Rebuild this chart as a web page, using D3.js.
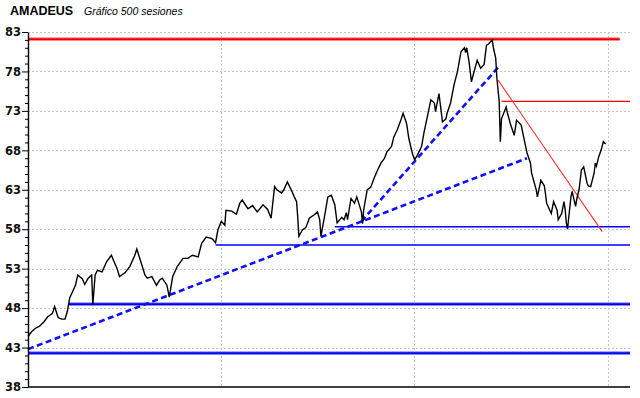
<!DOCTYPE html>
<html>
<head>
<meta charset="utf-8">
<script src="https://cdn.jsdelivr.net/npm/d3@7"></script>
<style>
  body { margin: 0; background: #fff; }
  svg { display: block; }
</style>
</head>
<body>
<div id="wrapper"></div>
<script>
// data (session number, close)
const sessions = [0, 3, 7, 10, 14, 17, 21, 23, 26, 29, 32, 34, 36, 41, 43, 47, 49, 52, 55, 56,
  58, 60, 64, 68, 72, 74, 77, 79, 84, 88, 92, 94, 97, 101, 103, 107, 111, 114, 116, 120,
  122, 125, 129, 134, 138, 142, 147, 150, 154, 159, 162, 164, 167, 170, 171, 176, 180, 183, 185, 190,
  194, 198, 203, 207, 210, 213, 215, 219, 221, 224, 228, 230, 232, 233, 234, 237, 240, 243, 247, 250,
  252, 253, 256, 259, 262, 265, 267, 271, 273, 275, 276, 279, 282, 284, 288, 289, 290, 293, 296, 299,
  302, 305, 308, 310, 314, 316, 319, 322, 324, 327, 329, 332, 334, 336, 340, 342, 345, 348, 351, 352,
  355, 358, 361, 362, 365, 368, 371, 374, 377, 378, 379, 381, 383, 385, 388, 391, 394, 396, 398, 401,
  402, 404, 405, 407, 408, 409, 413, 414, 417, 420, 422, 426, 428, 431, 434, 435, 439, 440, 443, 446,
  447, 448, 452, 454, 457, 458, 461, 463, 464, 465, 466, 469, 470, 473, 474, 476, 478, 480, 483, 484,
  486, 489, 490, 491, 493, 495, 497, 499]
const closes = [44.4, 45.0, 45.5, 45.7, 46.3, 46.9, 47.3, 48.2, 46.8, 46.6, 46.6, 47.6, 49.3, 50.9, 52.2, 51.7, 51.0, 51.8, 52.2, 48.4,
  52.2, 52.8, 52.6, 53.9, 54.7, 54.0, 53.0, 52.0, 52.5, 53.3, 54.6, 55.5, 54.1, 52.2, 51.8, 52.0, 50.9, 51.6, 51.8, 50.9,
  49.4, 52.0, 53.3, 54.3, 54.3, 54.7, 54.5, 56.2, 57.0, 56.8, 56.3, 57.9, 59.0, 58.5, 60.4, 60.3, 59.9, 61.3, 61.7, 60.6,
  61.0, 60.2, 61.1, 60.5, 59.4, 63.4, 63.0, 62.6, 63.0, 64.0, 62.8, 62.1, 61.5, 59.5, 57.1, 57.9, 58.2, 59.4, 59.8, 60.2,
  59.2, 57.1, 59.5, 62.1, 62.3, 61.1, 58.8, 59.5, 59.2, 60.1, 59.2, 61.9, 61.3, 62.1, 60.2, 58.7, 60.5, 63.0, 63.3, 64.5,
  65.5, 66.4, 67.0, 67.8, 68.5, 69.7, 70.6, 71.8, 72.7, 71.4, 69.5, 67.6, 66.8, 67.3, 68.5, 70.2, 72.3, 74.4, 74.0, 72.9,
  75.2, 71.6, 72.0, 72.7, 74.0, 76.3, 78.0, 80.5, 81.0, 80.4, 81.0, 79.2, 76.7, 77.8, 79.4, 78.4, 78.9, 81.3, 81.5, 82.0,
  81.0, 79.7, 77.2, 74.2, 69.1, 72.0, 73.5, 72.8, 71.2, 69.9, 71.8, 71.2, 69.8, 67.7, 66.4, 65.1, 63.0, 62.1, 64.2, 63.5,
  62.5, 61.3, 60.0, 61.5, 60.4, 59.2, 60.0, 61.5, 60.5, 58.8, 58.0, 62.1, 62.8, 60.9, 61.8, 63.0, 65.5, 65.9, 63.8, 63.5,
  63.4, 65.1, 66.4, 66.0, 67.2, 68.0, 69.1, 68.8]

// y ticks and vertical grid sessions
const yTicks = [38, 43, 48, 53, 58, 63, 68, 73, 78, 83]
const gridSessions = [167, 333, 501]

// horizontal levels
const levelValues = [82.1, 74.2, 58.3, 56.0, 48.5, 42.3]
const levelStart = [0, 409, 265, 162, 35, 0]
const levelEnd = [511, 520, 520, 520, 520, 520]
const levelKind = ["redMajor", "redThin", "blueThin", "blueThin", "blueMajor", "blueMajor"]

// trend lines [session, value]
const trendFrom = [[0, 42.8], [288, 59.0], [406, 76.9]]
const trendTo = [[431, 67.0], [406, 78.5], [496, 57.7]]
const trendKind = ["blueDash", "blueDash", "redThin2"]

const styles = {
  redMajor: [{ stroke: "#ff8a8a", width: 3.6 }, { stroke: "#ee0000", width: 1.6 }],
  blueMajor: [{ stroke: "#8a8aff", width: 3.6 }, { stroke: "#0000ee", width: 1.6 }],
  redThin: [{ stroke: "#ff0000", width: 1.3 }],
  blueThin: [{ stroke: "#0000ff", width: 1.5 }],
  blueDash: [{ stroke: "#1010ff", width: 2.6, dash: "6,3.5" }],
  redThin2: [{ stroke: "#ff3030", width: 1.1 }],
}

// create dimensions
let dimensions = {
  width: 640,
  height: 398,
  left: 28,
  right: 630,
  top: 32,
  bottom: 387,
}

const wrapper = d3.select("#wrapper")
  .append("svg")
    .attr("width", dimensions.width)
    .attr("height", dimensions.height)

const priceData = sessions.map((s, i) => ({ s: s, v: closes[i] }))

// create scales
const xScale = d3.scaleLinear()
  .domain([0, 520])
  .range([dimensions.left, dimensions.right])

const yScale = d3.scaleLinear()
  .domain([38, 83])
  .range([dimensions.bottom, dimensions.top])

// grid
const grid = wrapper.append("g")
grid.selectAll(".hgrid")
  .data(yTicks.slice(1))
  .enter()
    .append("line")
    .attr("x1", dimensions.left)
    .attr("x2", dimensions.right)
    .attr("y1", d => Math.round(yScale(d)) + 0.5)
    .attr("y2", d => Math.round(yScale(d)) + 0.5)
    .attr("stroke", "#c4c4c4")
    .attr("stroke-dasharray", "2,2")
grid.selectAll(".vgrid")
  .data(gridSessions)
  .enter()
    .append("line")
    .attr("x1", d => Math.round(xScale(d)) + 0.5)
    .attr("x2", d => Math.round(xScale(d)) + 0.5)
    .attr("y1", dimensions.top)
    .attr("y2", dimensions.bottom)
    .attr("stroke", "#c4c4c4")
    .attr("stroke-dasharray", "2,2")

// levels
const levels = wrapper.append("g")
levelValues.forEach((v, i) => {
  styles[levelKind[i]].forEach(st => {
    levels.append("line")
      .attr("x1", xScale(levelStart[i]))
      .attr("x2", xScale(levelEnd[i]))
      .attr("y1", yScale(v))
      .attr("y2", yScale(v))
      .attr("stroke", st.stroke)
      .attr("stroke-width", st.width)
  })
})

// trend lines
trendFrom.forEach((p, i) => {
  styles[trendKind[i]].forEach(st => {
    wrapper.append("line")
      .attr("x1", xScale(p[0]))
      .attr("y1", yScale(p[1]))
      .attr("x2", xScale(trendTo[i][0]))
      .attr("y2", yScale(trendTo[i][1]))
      .attr("stroke", st.stroke)
      .attr("stroke-width", st.width)
      .attr("stroke-dasharray", st.dash || null)
  })
})

// price line
const line = d3.line()
  .x(d => xScale(d.s))
  .y(d => yScale(d.v))
wrapper.append("path")
  .datum(priceData)
  .attr("d", line)
  .attr("fill", "none")
  .attr("stroke", "#000")
  .attr("stroke-width", 1.4)
  .attr("stroke-linejoin", "miter")

// y axis (minor ticks first, then major)
const minorTicks = d3.range(38, 84).filter(d => !yTicks.includes(d))
wrapper.append("g")
  .attr("transform", `translate(${dimensions.left}, 0)`)
  .call(d3.axisLeft(yScale).tickValues(minorTicks).tickSize(3).tickFormat(""))
  .call(g => g.select(".domain").remove())
  .selectAll("line").attr("stroke", "#000")

const yAxis = wrapper.append("g")
  .attr("id", "y-axis")
  .attr("transform", `translate(${dimensions.left}, 0)`)
  .call(d3.axisLeft(yScale)
    .tickValues(yTicks)
    .tickSize(6)
    .tickSizeOuter(0)
    .tickPadding(1)
    .tickFormat(d3.format("d")))
yAxis.select(".domain")
  .attr("stroke", "#000")
  .attr("stroke-width", 1.4)
yAxis.selectAll(".tick text")
  .attr("font-size", 11.5)
  .attr("font-weight", "bold")
  .attr("font-family", "DejaVu Sans")
  .attr("fill", "#111")

// x baseline
wrapper.append("line")
  .attr("x1", dimensions.left)
  .attr("x2", dimensions.right)
  .attr("y1", dimensions.bottom)
  .attr("y2", dimensions.bottom)
  .attr("stroke", "#000")
  .attr("stroke-width", 1.4)

// title
wrapper.append("text")
  .attr("x", 10)
  .attr("y", 15)
  .attr("font-family", "Liberation Sans")
  .attr("font-weight", "bold")
  .attr("font-size", 12.5)
  .text("AMADEUS")
wrapper.append("text")
  .attr("x", 84)
  .attr("y", 15)
  .attr("font-family", "Liberation Sans")
  .attr("font-style", "italic")
  .attr("font-size", 10.5)
  .text("Gráfico 500 sesiones")
</script>
</body>
</html>
